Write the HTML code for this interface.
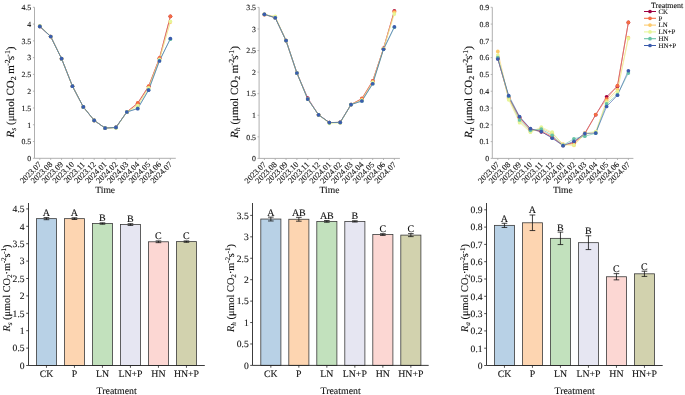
<!DOCTYPE html>
<html><head><meta charset="utf-8"><style>
html,body{margin:0;padding:0;background:#fff;}
svg{display:block;will-change:transform;}
text{font-family:"Liberation Serif", serif;fill:#111;stroke:#111;stroke-width:0.1px;text-rendering:geometricPrecision;}
</style></head><body>
<svg width="685" height="395" viewBox="0 0 685 395">
<rect width="685" height="395" fill="#fff"/>
<line x1="34.5" y1="7.3" x2="34.5" y2="158.3" stroke="#a6a6a6" stroke-width="0.9"/>
<line x1="34.5" y1="158.3" x2="175.8" y2="158.3" stroke="#a6a6a6" stroke-width="0.9"/>
<line x1="32.9" y1="158.3" x2="34.5" y2="158.3" stroke="#a6a6a6" stroke-width="0.8"/>
<text x="31.2" y="161.1" text-anchor="end" font-size="7.8">0</text>
<line x1="32.9" y1="141.52" x2="34.5" y2="141.52" stroke="#a6a6a6" stroke-width="0.8"/>
<text x="31.2" y="144.32" text-anchor="end" font-size="7.8">0.5</text>
<line x1="32.9" y1="124.74" x2="34.5" y2="124.74" stroke="#a6a6a6" stroke-width="0.8"/>
<text x="31.2" y="127.54" text-anchor="end" font-size="7.8">1</text>
<line x1="32.9" y1="107.97" x2="34.5" y2="107.97" stroke="#a6a6a6" stroke-width="0.8"/>
<text x="31.2" y="110.77" text-anchor="end" font-size="7.8">1.5</text>
<line x1="32.9" y1="91.19" x2="34.5" y2="91.19" stroke="#a6a6a6" stroke-width="0.8"/>
<text x="31.2" y="93.99" text-anchor="end" font-size="7.8">2</text>
<line x1="32.9" y1="74.41" x2="34.5" y2="74.41" stroke="#a6a6a6" stroke-width="0.8"/>
<text x="31.2" y="77.21" text-anchor="end" font-size="7.8">2.5</text>
<line x1="32.9" y1="57.63" x2="34.5" y2="57.63" stroke="#a6a6a6" stroke-width="0.8"/>
<text x="31.2" y="60.43" text-anchor="end" font-size="7.8">3</text>
<line x1="32.9" y1="40.86" x2="34.5" y2="40.86" stroke="#a6a6a6" stroke-width="0.8"/>
<text x="31.2" y="43.66" text-anchor="end" font-size="7.8">3.5</text>
<line x1="32.9" y1="24.08" x2="34.5" y2="24.08" stroke="#a6a6a6" stroke-width="0.8"/>
<text x="31.2" y="26.88" text-anchor="end" font-size="7.8">4</text>
<line x1="32.9" y1="7.3" x2="34.5" y2="7.3" stroke="#a6a6a6" stroke-width="0.8"/>
<text x="31.2" y="10.1" text-anchor="end" font-size="7.8">4.5</text>
<line x1="39.8" y1="158.3" x2="39.8" y2="159.9" stroke="#a6a6a6" stroke-width="0.8"/>
<text transform="translate(37.8,160.8) rotate(-45)" text-anchor="end" dy="5.9" font-size="8.2">2023.07</text>
<line x1="50.68" y1="158.3" x2="50.68" y2="159.9" stroke="#a6a6a6" stroke-width="0.8"/>
<text transform="translate(48.68,160.8) rotate(-45)" text-anchor="end" dy="5.9" font-size="8.2">2023.08</text>
<line x1="61.56" y1="158.3" x2="61.56" y2="159.9" stroke="#a6a6a6" stroke-width="0.8"/>
<text transform="translate(59.56,160.8) rotate(-45)" text-anchor="end" dy="5.9" font-size="8.2">2023.09</text>
<line x1="72.44" y1="158.3" x2="72.44" y2="159.9" stroke="#a6a6a6" stroke-width="0.8"/>
<text transform="translate(70.44,160.8) rotate(-45)" text-anchor="end" dy="5.9" font-size="8.2">2023.10</text>
<line x1="83.32" y1="158.3" x2="83.32" y2="159.9" stroke="#a6a6a6" stroke-width="0.8"/>
<text transform="translate(81.32,160.8) rotate(-45)" text-anchor="end" dy="5.9" font-size="8.2">2023.11</text>
<line x1="94.2" y1="158.3" x2="94.2" y2="159.9" stroke="#a6a6a6" stroke-width="0.8"/>
<text transform="translate(92.2,160.8) rotate(-45)" text-anchor="end" dy="5.9" font-size="8.2">2023.12</text>
<line x1="105.08" y1="158.3" x2="105.08" y2="159.9" stroke="#a6a6a6" stroke-width="0.8"/>
<text transform="translate(103.08,160.8) rotate(-45)" text-anchor="end" dy="5.9" font-size="8.2">2024.01</text>
<line x1="115.96" y1="158.3" x2="115.96" y2="159.9" stroke="#a6a6a6" stroke-width="0.8"/>
<text transform="translate(113.96,160.8) rotate(-45)" text-anchor="end" dy="5.9" font-size="8.2">2024.02</text>
<line x1="126.84" y1="158.3" x2="126.84" y2="159.9" stroke="#a6a6a6" stroke-width="0.8"/>
<text transform="translate(124.84,160.8) rotate(-45)" text-anchor="end" dy="5.9" font-size="8.2">2024.03</text>
<line x1="137.72" y1="158.3" x2="137.72" y2="159.9" stroke="#a6a6a6" stroke-width="0.8"/>
<text transform="translate(135.72,160.8) rotate(-45)" text-anchor="end" dy="5.9" font-size="8.2">2024.04</text>
<line x1="148.6" y1="158.3" x2="148.6" y2="159.9" stroke="#a6a6a6" stroke-width="0.8"/>
<text transform="translate(146.6,160.8) rotate(-45)" text-anchor="end" dy="5.9" font-size="8.2">2024.05</text>
<line x1="159.48" y1="158.3" x2="159.48" y2="159.9" stroke="#a6a6a6" stroke-width="0.8"/>
<text transform="translate(157.48,160.8) rotate(-45)" text-anchor="end" dy="5.9" font-size="8.2">2024.06</text>
<line x1="170.36" y1="158.3" x2="170.36" y2="159.9" stroke="#a6a6a6" stroke-width="0.8"/>
<text transform="translate(168.36,160.8) rotate(-45)" text-anchor="end" dy="5.9" font-size="8.2">2024.07</text>
<text x="105.15" y="193.2" text-anchor="middle" font-size="9.6">Time</text>
<text transform="translate(13.8,92.0) rotate(-90)" text-anchor="middle" font-size="11.0"><tspan font-style="italic">R</tspan><tspan font-style="italic" font-size="7.7" dy="2.4">s</tspan><tspan dy="-2.4"> (μmol CO</tspan><tspan font-size="7.7" dy="2.4">2</tspan><tspan dy="-2.4"> m</tspan><tspan font-size="7.7" dy="-3.9" dx="-0.7">-2</tspan><tspan dy="3.9" dx="-0.8">s</tspan><tspan font-size="7.7" dy="-3.9" dx="-0.7">-1</tspan><tspan dy="3.9">)</tspan></text>
<polyline points="39.8,26.43 50.68,36.49 61.56,58.64 72.44,86.16 83.32,106.96 94.2,120.38 105.08,128.1 115.96,127.43 126.84,111.99 137.72,103.27 148.6,86.49 159.48,58.3 170.36,16.36" fill="none" stroke="#9e0142" stroke-width="0.6"/>
<polyline points="39.8,26.43 50.68,36.49 61.56,58.64 72.44,86.16 83.32,106.96 94.2,120.38 105.08,128.1 115.96,127.43 126.84,111.99 137.72,102.93 148.6,86.16 159.48,57.97 170.36,16.36" fill="none" stroke="#f46d43" stroke-width="0.6"/>
<polyline points="39.8,25.76 50.68,36.49 61.56,58.64 72.44,86.16 83.32,106.96 94.2,120.38 105.08,128.1 115.96,127.43 126.84,111.99 137.72,105.28 148.6,87.83 159.48,59.31 170.36,22.06" fill="none" stroke="#fdc96a" stroke-width="0.6"/>
<polyline points="39.8,25.76 50.68,36.49 61.56,58.64 72.44,86.16 83.32,106.96 94.2,120.38 105.08,128.1 115.96,128.1 126.84,111.99 137.72,105.95 148.6,88.17 159.48,59.65 170.36,21.39" fill="none" stroke="#e6f598" stroke-width="0.6"/>
<polyline points="39.8,26.43 50.68,36.49 61.56,58.64 72.44,86.16 83.32,106.96 94.2,120.38 105.08,128.1 115.96,127.43 126.84,111.99 137.72,108.3 148.6,89.85 159.48,60.65 170.36,39.18" fill="none" stroke="#66c2a5" stroke-width="0.6"/>
<polyline points="39.8,26.43 50.68,36.49 61.56,58.64 72.44,86.16 83.32,106.96 94.2,120.38 105.08,128.1 115.96,127.43 126.84,111.99 137.72,108.64 148.6,90.18 159.48,60.99 170.36,38.51" fill="none" stroke="#3b5cad" stroke-width="0.6"/>
<circle cx="39.8" cy="26.43" r="1.85" fill="#9e0142"/>
<circle cx="50.68" cy="36.49" r="1.85" fill="#9e0142"/>
<circle cx="61.56" cy="58.64" r="1.85" fill="#9e0142"/>
<circle cx="72.44" cy="86.16" r="1.85" fill="#9e0142"/>
<circle cx="83.32" cy="106.96" r="1.85" fill="#9e0142"/>
<circle cx="94.2" cy="120.38" r="1.85" fill="#9e0142"/>
<circle cx="105.08" cy="128.1" r="1.85" fill="#9e0142"/>
<circle cx="115.96" cy="127.43" r="1.85" fill="#9e0142"/>
<circle cx="126.84" cy="111.99" r="1.85" fill="#9e0142"/>
<circle cx="137.72" cy="103.27" r="1.85" fill="#9e0142"/>
<circle cx="148.6" cy="86.49" r="1.85" fill="#9e0142"/>
<circle cx="159.48" cy="58.3" r="1.85" fill="#9e0142"/>
<circle cx="170.36" cy="16.36" r="1.85" fill="#9e0142"/>
<circle cx="39.8" cy="26.43" r="1.85" fill="#f46d43"/>
<circle cx="50.68" cy="36.49" r="1.85" fill="#f46d43"/>
<circle cx="61.56" cy="58.64" r="1.85" fill="#f46d43"/>
<circle cx="72.44" cy="86.16" r="1.85" fill="#f46d43"/>
<circle cx="83.32" cy="106.96" r="1.85" fill="#f46d43"/>
<circle cx="94.2" cy="120.38" r="1.85" fill="#f46d43"/>
<circle cx="105.08" cy="128.1" r="1.85" fill="#f46d43"/>
<circle cx="115.96" cy="127.43" r="1.85" fill="#f46d43"/>
<circle cx="126.84" cy="111.99" r="1.85" fill="#f46d43"/>
<circle cx="137.72" cy="102.93" r="1.85" fill="#f46d43"/>
<circle cx="148.6" cy="86.16" r="1.85" fill="#f46d43"/>
<circle cx="159.48" cy="57.97" r="1.85" fill="#f46d43"/>
<circle cx="170.36" cy="16.36" r="1.85" fill="#f46d43"/>
<circle cx="39.8" cy="25.76" r="1.85" fill="#fdc96a"/>
<circle cx="50.68" cy="36.49" r="1.85" fill="#fdc96a"/>
<circle cx="61.56" cy="58.64" r="1.85" fill="#fdc96a"/>
<circle cx="72.44" cy="86.16" r="1.85" fill="#fdc96a"/>
<circle cx="83.32" cy="106.96" r="1.85" fill="#fdc96a"/>
<circle cx="94.2" cy="120.38" r="1.85" fill="#fdc96a"/>
<circle cx="105.08" cy="128.1" r="1.85" fill="#fdc96a"/>
<circle cx="115.96" cy="127.43" r="1.85" fill="#fdc96a"/>
<circle cx="126.84" cy="111.99" r="1.85" fill="#fdc96a"/>
<circle cx="137.72" cy="105.28" r="1.85" fill="#fdc96a"/>
<circle cx="148.6" cy="87.83" r="1.85" fill="#fdc96a"/>
<circle cx="159.48" cy="59.31" r="1.85" fill="#fdc96a"/>
<circle cx="170.36" cy="22.06" r="1.85" fill="#fdc96a"/>
<circle cx="39.8" cy="25.76" r="1.85" fill="#e6f598"/>
<circle cx="50.68" cy="36.49" r="1.85" fill="#e6f598"/>
<circle cx="61.56" cy="58.64" r="1.85" fill="#e6f598"/>
<circle cx="72.44" cy="86.16" r="1.85" fill="#e6f598"/>
<circle cx="83.32" cy="106.96" r="1.85" fill="#e6f598"/>
<circle cx="94.2" cy="120.38" r="1.85" fill="#e6f598"/>
<circle cx="105.08" cy="128.1" r="1.85" fill="#e6f598"/>
<circle cx="115.96" cy="128.1" r="1.85" fill="#e6f598"/>
<circle cx="126.84" cy="111.99" r="1.85" fill="#e6f598"/>
<circle cx="137.72" cy="105.95" r="1.85" fill="#e6f598"/>
<circle cx="148.6" cy="88.17" r="1.85" fill="#e6f598"/>
<circle cx="159.48" cy="59.65" r="1.85" fill="#e6f598"/>
<circle cx="170.36" cy="21.39" r="1.85" fill="#e6f598"/>
<circle cx="39.8" cy="26.43" r="1.85" fill="#66c2a5"/>
<circle cx="50.68" cy="36.49" r="1.85" fill="#66c2a5"/>
<circle cx="61.56" cy="58.64" r="1.85" fill="#66c2a5"/>
<circle cx="72.44" cy="86.16" r="1.85" fill="#66c2a5"/>
<circle cx="83.32" cy="106.96" r="1.85" fill="#66c2a5"/>
<circle cx="94.2" cy="120.38" r="1.85" fill="#66c2a5"/>
<circle cx="105.08" cy="128.1" r="1.85" fill="#66c2a5"/>
<circle cx="115.96" cy="127.43" r="1.85" fill="#66c2a5"/>
<circle cx="126.84" cy="111.99" r="1.85" fill="#66c2a5"/>
<circle cx="137.72" cy="108.3" r="1.85" fill="#66c2a5"/>
<circle cx="148.6" cy="89.85" r="1.85" fill="#66c2a5"/>
<circle cx="159.48" cy="60.65" r="1.85" fill="#66c2a5"/>
<circle cx="170.36" cy="39.18" r="1.85" fill="#66c2a5"/>
<circle cx="39.8" cy="26.43" r="1.85" fill="#3b5cad"/>
<circle cx="50.68" cy="36.49" r="1.85" fill="#3b5cad"/>
<circle cx="61.56" cy="58.64" r="1.85" fill="#3b5cad"/>
<circle cx="72.44" cy="86.16" r="1.85" fill="#3b5cad"/>
<circle cx="83.32" cy="106.96" r="1.85" fill="#3b5cad"/>
<circle cx="94.2" cy="120.38" r="1.85" fill="#3b5cad"/>
<circle cx="105.08" cy="128.1" r="1.85" fill="#3b5cad"/>
<circle cx="115.96" cy="127.43" r="1.85" fill="#3b5cad"/>
<circle cx="126.84" cy="111.99" r="1.85" fill="#3b5cad"/>
<circle cx="137.72" cy="108.64" r="1.85" fill="#3b5cad"/>
<circle cx="148.6" cy="90.18" r="1.85" fill="#3b5cad"/>
<circle cx="159.48" cy="60.99" r="1.85" fill="#3b5cad"/>
<circle cx="170.36" cy="38.51" r="1.85" fill="#3b5cad"/>
<line x1="259.1" y1="7.4" x2="259.1" y2="158.4" stroke="#a6a6a6" stroke-width="0.9"/>
<line x1="259.1" y1="158.4" x2="399.9" y2="158.4" stroke="#a6a6a6" stroke-width="0.9"/>
<line x1="257.5" y1="158.4" x2="259.1" y2="158.4" stroke="#a6a6a6" stroke-width="0.8"/>
<text x="256" y="161.2" text-anchor="end" font-size="7.8">0</text>
<line x1="257.5" y1="136.83" x2="259.1" y2="136.83" stroke="#a6a6a6" stroke-width="0.8"/>
<text x="256" y="139.63" text-anchor="end" font-size="7.8">0.5</text>
<line x1="257.5" y1="115.26" x2="259.1" y2="115.26" stroke="#a6a6a6" stroke-width="0.8"/>
<text x="256" y="118.06" text-anchor="end" font-size="7.8">1</text>
<line x1="257.5" y1="93.69" x2="259.1" y2="93.69" stroke="#a6a6a6" stroke-width="0.8"/>
<text x="256" y="96.49" text-anchor="end" font-size="7.8">1.5</text>
<line x1="257.5" y1="72.11" x2="259.1" y2="72.11" stroke="#a6a6a6" stroke-width="0.8"/>
<text x="256" y="74.91" text-anchor="end" font-size="7.8">2</text>
<line x1="257.5" y1="50.54" x2="259.1" y2="50.54" stroke="#a6a6a6" stroke-width="0.8"/>
<text x="256" y="53.34" text-anchor="end" font-size="7.8">2.5</text>
<line x1="257.5" y1="28.97" x2="259.1" y2="28.97" stroke="#a6a6a6" stroke-width="0.8"/>
<text x="256" y="31.77" text-anchor="end" font-size="7.8">3</text>
<line x1="257.5" y1="7.4" x2="259.1" y2="7.4" stroke="#a6a6a6" stroke-width="0.8"/>
<text x="256" y="10.2" text-anchor="end" font-size="7.8">3.5</text>
<line x1="264.4" y1="158.4" x2="264.4" y2="160" stroke="#a6a6a6" stroke-width="0.8"/>
<text transform="translate(262.4,160.9) rotate(-45)" text-anchor="end" dy="5.9" font-size="8.2">2023.07</text>
<line x1="275.23" y1="158.4" x2="275.23" y2="160" stroke="#a6a6a6" stroke-width="0.8"/>
<text transform="translate(273.23,160.9) rotate(-45)" text-anchor="end" dy="5.9" font-size="8.2">2023.08</text>
<line x1="286.06" y1="158.4" x2="286.06" y2="160" stroke="#a6a6a6" stroke-width="0.8"/>
<text transform="translate(284.06,160.9) rotate(-45)" text-anchor="end" dy="5.9" font-size="8.2">2023.09</text>
<line x1="296.89" y1="158.4" x2="296.89" y2="160" stroke="#a6a6a6" stroke-width="0.8"/>
<text transform="translate(294.89,160.9) rotate(-45)" text-anchor="end" dy="5.9" font-size="8.2">2023.10</text>
<line x1="307.72" y1="158.4" x2="307.72" y2="160" stroke="#a6a6a6" stroke-width="0.8"/>
<text transform="translate(305.72,160.9) rotate(-45)" text-anchor="end" dy="5.9" font-size="8.2">2023.11</text>
<line x1="318.55" y1="158.4" x2="318.55" y2="160" stroke="#a6a6a6" stroke-width="0.8"/>
<text transform="translate(316.55,160.9) rotate(-45)" text-anchor="end" dy="5.9" font-size="8.2">2023.12</text>
<line x1="329.38" y1="158.4" x2="329.38" y2="160" stroke="#a6a6a6" stroke-width="0.8"/>
<text transform="translate(327.38,160.9) rotate(-45)" text-anchor="end" dy="5.9" font-size="8.2">2024.01</text>
<line x1="340.21" y1="158.4" x2="340.21" y2="160" stroke="#a6a6a6" stroke-width="0.8"/>
<text transform="translate(338.21,160.9) rotate(-45)" text-anchor="end" dy="5.9" font-size="8.2">2024.02</text>
<line x1="351.04" y1="158.4" x2="351.04" y2="160" stroke="#a6a6a6" stroke-width="0.8"/>
<text transform="translate(349.04,160.9) rotate(-45)" text-anchor="end" dy="5.9" font-size="8.2">2024.03</text>
<line x1="361.87" y1="158.4" x2="361.87" y2="160" stroke="#a6a6a6" stroke-width="0.8"/>
<text transform="translate(359.87,160.9) rotate(-45)" text-anchor="end" dy="5.9" font-size="8.2">2024.04</text>
<line x1="372.7" y1="158.4" x2="372.7" y2="160" stroke="#a6a6a6" stroke-width="0.8"/>
<text transform="translate(370.7,160.9) rotate(-45)" text-anchor="end" dy="5.9" font-size="8.2">2024.05</text>
<line x1="383.53" y1="158.4" x2="383.53" y2="160" stroke="#a6a6a6" stroke-width="0.8"/>
<text transform="translate(381.53,160.9) rotate(-45)" text-anchor="end" dy="5.9" font-size="8.2">2024.06</text>
<line x1="394.36" y1="158.4" x2="394.36" y2="160" stroke="#a6a6a6" stroke-width="0.8"/>
<text transform="translate(392.36,160.9) rotate(-45)" text-anchor="end" dy="5.9" font-size="8.2">2024.07</text>
<text x="329.5" y="193.2" text-anchor="middle" font-size="9.6">Time</text>
<text transform="translate(238,92.0) rotate(-90)" text-anchor="middle" font-size="11.0"><tspan font-style="italic">R</tspan><tspan font-style="italic" font-size="7.7" dy="2.4">h</tspan><tspan dy="-2.4"> (μmol CO</tspan><tspan font-size="7.7" dy="2.4">2</tspan><tspan dy="-2.4"> m</tspan><tspan font-size="7.7" dy="-3.9" dx="-0.7">-2</tspan><tspan dy="3.9" dx="-0.8">s</tspan><tspan font-size="7.7" dy="-3.9" dx="-0.7">-1</tspan><tspan dy="3.9">)</tspan></text>
<polyline points="264.4,14.3 275.23,17.75 286.06,40.62 296.89,72.98 307.72,98 318.55,114.83 329.38,122.59 340.21,122.38 351.04,104.56 361.87,98.86 372.7,81.17 383.53,48.39 394.36,10.85" fill="none" stroke="#9e0142" stroke-width="0.6"/>
<polyline points="264.4,14.73 275.23,16.89 286.06,40.62 296.89,72.98 307.72,99.04 318.55,114.83 329.38,122.59 340.21,122.38 351.04,104.56 361.87,98.43 372.7,80.74 383.53,48.39 394.36,11.28" fill="none" stroke="#f46d43" stroke-width="0.6"/>
<polyline points="264.4,14.3 275.23,17.75 286.06,40.62 296.89,72.98 307.72,99.04 318.55,114.83 329.38,122.59 340.21,122.38 351.04,104.56 361.87,99.73 372.7,82.04 383.53,48.82 394.36,12.58" fill="none" stroke="#fdc96a" stroke-width="0.6"/>
<polyline points="264.4,14.3 275.23,16.46 286.06,40.62 296.89,72.98 307.72,99.04 318.55,114.83 329.38,123.45 340.21,123.02 351.04,104.56 361.87,100.16 372.7,82.47 383.53,48.82 394.36,14.09" fill="none" stroke="#e6f598" stroke-width="0.6"/>
<polyline points="264.4,14.3 275.23,17.75 286.06,40.62 296.89,72.98 307.72,99.04 318.55,114.83 329.38,122.59 340.21,122.38 351.04,104.56 361.87,101.02 372.7,83.76 383.53,49.25 394.36,27.25" fill="none" stroke="#66c2a5" stroke-width="0.6"/>
<polyline points="264.4,14.3 275.23,17.75 286.06,40.62 296.89,72.98 307.72,99.04 318.55,114.83 329.38,122.59 340.21,122.38 351.04,104.56 361.87,101.02 372.7,83.76 383.53,49.25 394.36,26.81" fill="none" stroke="#3b5cad" stroke-width="0.6"/>
<circle cx="264.4" cy="14.3" r="1.85" fill="#9e0142"/>
<circle cx="275.23" cy="17.75" r="1.85" fill="#9e0142"/>
<circle cx="286.06" cy="40.62" r="1.85" fill="#9e0142"/>
<circle cx="296.89" cy="72.98" r="1.85" fill="#9e0142"/>
<circle cx="307.72" cy="98" r="1.85" fill="#9e0142"/>
<circle cx="318.55" cy="114.83" r="1.85" fill="#9e0142"/>
<circle cx="329.38" cy="122.59" r="1.85" fill="#9e0142"/>
<circle cx="340.21" cy="122.38" r="1.85" fill="#9e0142"/>
<circle cx="351.04" cy="104.56" r="1.85" fill="#9e0142"/>
<circle cx="361.87" cy="98.86" r="1.85" fill="#9e0142"/>
<circle cx="372.7" cy="81.17" r="1.85" fill="#9e0142"/>
<circle cx="383.53" cy="48.39" r="1.85" fill="#9e0142"/>
<circle cx="394.36" cy="10.85" r="1.85" fill="#9e0142"/>
<circle cx="264.4" cy="14.73" r="1.85" fill="#f46d43"/>
<circle cx="275.23" cy="16.89" r="1.85" fill="#f46d43"/>
<circle cx="286.06" cy="40.62" r="1.85" fill="#f46d43"/>
<circle cx="296.89" cy="72.98" r="1.85" fill="#f46d43"/>
<circle cx="307.72" cy="99.04" r="1.85" fill="#f46d43"/>
<circle cx="318.55" cy="114.83" r="1.85" fill="#f46d43"/>
<circle cx="329.38" cy="122.59" r="1.85" fill="#f46d43"/>
<circle cx="340.21" cy="122.38" r="1.85" fill="#f46d43"/>
<circle cx="351.04" cy="104.56" r="1.85" fill="#f46d43"/>
<circle cx="361.87" cy="98.43" r="1.85" fill="#f46d43"/>
<circle cx="372.7" cy="80.74" r="1.85" fill="#f46d43"/>
<circle cx="383.53" cy="48.39" r="1.85" fill="#f46d43"/>
<circle cx="394.36" cy="11.28" r="1.85" fill="#f46d43"/>
<circle cx="264.4" cy="14.3" r="1.85" fill="#fdc96a"/>
<circle cx="275.23" cy="17.75" r="1.85" fill="#fdc96a"/>
<circle cx="286.06" cy="40.62" r="1.85" fill="#fdc96a"/>
<circle cx="296.89" cy="72.98" r="1.85" fill="#fdc96a"/>
<circle cx="307.72" cy="99.04" r="1.85" fill="#fdc96a"/>
<circle cx="318.55" cy="114.83" r="1.85" fill="#fdc96a"/>
<circle cx="329.38" cy="122.59" r="1.85" fill="#fdc96a"/>
<circle cx="340.21" cy="122.38" r="1.85" fill="#fdc96a"/>
<circle cx="351.04" cy="104.56" r="1.85" fill="#fdc96a"/>
<circle cx="361.87" cy="99.73" r="1.85" fill="#fdc96a"/>
<circle cx="372.7" cy="82.04" r="1.85" fill="#fdc96a"/>
<circle cx="383.53" cy="48.82" r="1.85" fill="#fdc96a"/>
<circle cx="394.36" cy="12.58" r="1.85" fill="#fdc96a"/>
<circle cx="264.4" cy="14.3" r="1.85" fill="#e6f598"/>
<circle cx="275.23" cy="16.46" r="1.85" fill="#e6f598"/>
<circle cx="286.06" cy="40.62" r="1.85" fill="#e6f598"/>
<circle cx="296.89" cy="72.98" r="1.85" fill="#e6f598"/>
<circle cx="307.72" cy="99.04" r="1.85" fill="#e6f598"/>
<circle cx="318.55" cy="114.83" r="1.85" fill="#e6f598"/>
<circle cx="329.38" cy="123.45" r="1.85" fill="#e6f598"/>
<circle cx="340.21" cy="123.02" r="1.85" fill="#e6f598"/>
<circle cx="351.04" cy="104.56" r="1.85" fill="#e6f598"/>
<circle cx="361.87" cy="100.16" r="1.85" fill="#e6f598"/>
<circle cx="372.7" cy="82.47" r="1.85" fill="#e6f598"/>
<circle cx="383.53" cy="48.82" r="1.85" fill="#e6f598"/>
<circle cx="394.36" cy="14.09" r="1.85" fill="#e6f598"/>
<circle cx="264.4" cy="14.3" r="1.85" fill="#66c2a5"/>
<circle cx="275.23" cy="17.75" r="1.85" fill="#66c2a5"/>
<circle cx="286.06" cy="40.62" r="1.85" fill="#66c2a5"/>
<circle cx="296.89" cy="72.98" r="1.85" fill="#66c2a5"/>
<circle cx="307.72" cy="99.04" r="1.85" fill="#66c2a5"/>
<circle cx="318.55" cy="114.83" r="1.85" fill="#66c2a5"/>
<circle cx="329.38" cy="122.59" r="1.85" fill="#66c2a5"/>
<circle cx="340.21" cy="122.38" r="1.85" fill="#66c2a5"/>
<circle cx="351.04" cy="104.56" r="1.85" fill="#66c2a5"/>
<circle cx="361.87" cy="101.02" r="1.85" fill="#66c2a5"/>
<circle cx="372.7" cy="83.76" r="1.85" fill="#66c2a5"/>
<circle cx="383.53" cy="49.25" r="1.85" fill="#66c2a5"/>
<circle cx="394.36" cy="27.25" r="1.85" fill="#66c2a5"/>
<circle cx="264.4" cy="14.3" r="1.85" fill="#3b5cad"/>
<circle cx="275.23" cy="17.75" r="1.85" fill="#3b5cad"/>
<circle cx="286.06" cy="40.62" r="1.85" fill="#3b5cad"/>
<circle cx="296.89" cy="72.98" r="1.85" fill="#3b5cad"/>
<circle cx="307.72" cy="99.04" r="1.85" fill="#3b5cad"/>
<circle cx="318.55" cy="114.83" r="1.85" fill="#3b5cad"/>
<circle cx="329.38" cy="122.59" r="1.85" fill="#3b5cad"/>
<circle cx="340.21" cy="122.38" r="1.85" fill="#3b5cad"/>
<circle cx="351.04" cy="104.56" r="1.85" fill="#3b5cad"/>
<circle cx="361.87" cy="101.02" r="1.85" fill="#3b5cad"/>
<circle cx="372.7" cy="83.76" r="1.85" fill="#3b5cad"/>
<circle cx="383.53" cy="49.25" r="1.85" fill="#3b5cad"/>
<circle cx="394.36" cy="26.81" r="1.85" fill="#3b5cad"/>
<line x1="492.3" y1="7.3" x2="492.3" y2="158.4" stroke="#a6a6a6" stroke-width="0.9"/>
<line x1="492.3" y1="158.4" x2="633.4" y2="158.4" stroke="#a6a6a6" stroke-width="0.9"/>
<line x1="490.7" y1="158.4" x2="492.3" y2="158.4" stroke="#a6a6a6" stroke-width="0.8"/>
<text x="489.2" y="161.2" text-anchor="end" font-size="7.8">0</text>
<line x1="490.7" y1="141.61" x2="492.3" y2="141.61" stroke="#a6a6a6" stroke-width="0.8"/>
<text x="489.2" y="144.41" text-anchor="end" font-size="7.8">0.1</text>
<line x1="490.7" y1="124.82" x2="492.3" y2="124.82" stroke="#a6a6a6" stroke-width="0.8"/>
<text x="489.2" y="127.62" text-anchor="end" font-size="7.8">0.2</text>
<line x1="490.7" y1="108.03" x2="492.3" y2="108.03" stroke="#a6a6a6" stroke-width="0.8"/>
<text x="489.2" y="110.83" text-anchor="end" font-size="7.8">0.3</text>
<line x1="490.7" y1="91.24" x2="492.3" y2="91.24" stroke="#a6a6a6" stroke-width="0.8"/>
<text x="489.2" y="94.04" text-anchor="end" font-size="7.8">0.4</text>
<line x1="490.7" y1="74.46" x2="492.3" y2="74.46" stroke="#a6a6a6" stroke-width="0.8"/>
<text x="489.2" y="77.26" text-anchor="end" font-size="7.8">0.5</text>
<line x1="490.7" y1="57.67" x2="492.3" y2="57.67" stroke="#a6a6a6" stroke-width="0.8"/>
<text x="489.2" y="60.47" text-anchor="end" font-size="7.8">0.6</text>
<line x1="490.7" y1="40.88" x2="492.3" y2="40.88" stroke="#a6a6a6" stroke-width="0.8"/>
<text x="489.2" y="43.68" text-anchor="end" font-size="7.8">0.7</text>
<line x1="490.7" y1="24.09" x2="492.3" y2="24.09" stroke="#a6a6a6" stroke-width="0.8"/>
<text x="489.2" y="26.89" text-anchor="end" font-size="7.8">0.8</text>
<line x1="490.7" y1="7.3" x2="492.3" y2="7.3" stroke="#a6a6a6" stroke-width="0.8"/>
<text x="489.2" y="10.1" text-anchor="end" font-size="7.8">0.9</text>
<line x1="497.8" y1="158.4" x2="497.8" y2="160" stroke="#a6a6a6" stroke-width="0.8"/>
<text transform="translate(495.8,160.9) rotate(-45)" text-anchor="end" dy="5.9" font-size="8.2">2023.07</text>
<line x1="508.68" y1="158.4" x2="508.68" y2="160" stroke="#a6a6a6" stroke-width="0.8"/>
<text transform="translate(506.68,160.9) rotate(-45)" text-anchor="end" dy="5.9" font-size="8.2">2023.08</text>
<line x1="519.56" y1="158.4" x2="519.56" y2="160" stroke="#a6a6a6" stroke-width="0.8"/>
<text transform="translate(517.56,160.9) rotate(-45)" text-anchor="end" dy="5.9" font-size="8.2">2023.09</text>
<line x1="530.44" y1="158.4" x2="530.44" y2="160" stroke="#a6a6a6" stroke-width="0.8"/>
<text transform="translate(528.44,160.9) rotate(-45)" text-anchor="end" dy="5.9" font-size="8.2">2023.10</text>
<line x1="541.32" y1="158.4" x2="541.32" y2="160" stroke="#a6a6a6" stroke-width="0.8"/>
<text transform="translate(539.32,160.9) rotate(-45)" text-anchor="end" dy="5.9" font-size="8.2">2023.11</text>
<line x1="552.2" y1="158.4" x2="552.2" y2="160" stroke="#a6a6a6" stroke-width="0.8"/>
<text transform="translate(550.2,160.9) rotate(-45)" text-anchor="end" dy="5.9" font-size="8.2">2023.12</text>
<line x1="563.08" y1="158.4" x2="563.08" y2="160" stroke="#a6a6a6" stroke-width="0.8"/>
<text transform="translate(561.08,160.9) rotate(-45)" text-anchor="end" dy="5.9" font-size="8.2">2024.01</text>
<line x1="573.96" y1="158.4" x2="573.96" y2="160" stroke="#a6a6a6" stroke-width="0.8"/>
<text transform="translate(571.96,160.9) rotate(-45)" text-anchor="end" dy="5.9" font-size="8.2">2024.02</text>
<line x1="584.84" y1="158.4" x2="584.84" y2="160" stroke="#a6a6a6" stroke-width="0.8"/>
<text transform="translate(582.84,160.9) rotate(-45)" text-anchor="end" dy="5.9" font-size="8.2">2024.03</text>
<line x1="595.72" y1="158.4" x2="595.72" y2="160" stroke="#a6a6a6" stroke-width="0.8"/>
<text transform="translate(593.72,160.9) rotate(-45)" text-anchor="end" dy="5.9" font-size="8.2">2024.04</text>
<line x1="606.6" y1="158.4" x2="606.6" y2="160" stroke="#a6a6a6" stroke-width="0.8"/>
<text transform="translate(604.6,160.9) rotate(-45)" text-anchor="end" dy="5.9" font-size="8.2">2024.05</text>
<line x1="617.48" y1="158.4" x2="617.48" y2="160" stroke="#a6a6a6" stroke-width="0.8"/>
<text transform="translate(615.48,160.9) rotate(-45)" text-anchor="end" dy="5.9" font-size="8.2">2024.06</text>
<line x1="628.36" y1="158.4" x2="628.36" y2="160" stroke="#a6a6a6" stroke-width="0.8"/>
<text transform="translate(626.36,160.9) rotate(-45)" text-anchor="end" dy="5.9" font-size="8.2">2024.07</text>
<text x="562.85" y="193.2" text-anchor="middle" font-size="9.6">Time</text>
<text transform="translate(472,92.0) rotate(-90)" text-anchor="middle" font-size="11.0"><tspan font-style="italic">R</tspan><tspan font-style="italic" font-size="7.7" dy="2.4">a</tspan><tspan dy="-2.4"> (μmol CO</tspan><tspan font-size="7.7" dy="2.4">2</tspan><tspan dy="-2.4"> m</tspan><tspan font-size="7.7" dy="-3.9" dx="-0.7">-2</tspan><tspan dy="3.9" dx="-0.8">s</tspan><tspan font-size="7.7" dy="-3.9" dx="-0.7">-1</tspan><tspan dy="3.9">)</tspan></text>
<polyline points="497.8,58.51 508.68,97.12 519.56,117.27 530.44,129.02 541.32,131.87 552.2,137.41 563.08,145.47 573.96,142.45 584.84,133.22 595.72,114.75 606.6,96.78 617.48,86.21 628.36,22.41" fill="none" stroke="#9e0142" stroke-width="0.6"/>
<polyline points="497.8,57.67 508.68,97.96 519.56,118.11 530.44,129.86 541.32,130.7 552.2,136.57 563.08,145.3 573.96,143.29 584.84,134.06 595.72,114.58 606.6,98.8 617.48,85.54 628.36,22.41" fill="none" stroke="#f46d43" stroke-width="0.6"/>
<polyline points="497.8,51.45 508.68,98.8 519.56,121.46 530.44,131.54 541.32,128.18 552.2,133.22 563.08,144.13 573.96,145.3 584.84,134.06 595.72,132.38 606.6,100.48 617.48,89.57 628.36,37.52" fill="none" stroke="#fdc96a" stroke-width="0.6"/>
<polyline points="497.8,54.98 508.68,99.81 519.56,122.64 530.44,132.21 541.32,127 552.2,132.21 563.08,144.97 573.96,144.97 584.84,133.22 595.72,131.54 606.6,102.16 617.48,91.24 628.36,38.53" fill="none" stroke="#e6f598" stroke-width="0.6"/>
<polyline points="497.8,57.67 508.68,96.28 519.56,119.95 530.44,130.36 541.32,129.19 552.2,135.23 563.08,145.3 573.96,138.76 584.84,136.24 595.72,133.22 606.6,103.84 617.48,94.6 628.36,73.11" fill="none" stroke="#66c2a5" stroke-width="0.6"/>
<polyline points="497.8,59.01 508.68,95.61 519.56,116.6 530.44,128.68 541.32,131.54 552.2,138.25 563.08,145.64 573.96,141.28 584.84,133.55 595.72,133.05 606.6,106.52 617.48,95.27 628.36,70.76" fill="none" stroke="#3b5cad" stroke-width="0.6"/>
<circle cx="497.8" cy="58.51" r="1.85" fill="#9e0142"/>
<circle cx="508.68" cy="97.12" r="1.85" fill="#9e0142"/>
<circle cx="519.56" cy="117.27" r="1.85" fill="#9e0142"/>
<circle cx="530.44" cy="129.02" r="1.85" fill="#9e0142"/>
<circle cx="541.32" cy="131.87" r="1.85" fill="#9e0142"/>
<circle cx="552.2" cy="137.41" r="1.85" fill="#9e0142"/>
<circle cx="563.08" cy="145.47" r="1.85" fill="#9e0142"/>
<circle cx="573.96" cy="142.45" r="1.85" fill="#9e0142"/>
<circle cx="584.84" cy="133.22" r="1.85" fill="#9e0142"/>
<circle cx="595.72" cy="114.75" r="1.85" fill="#9e0142"/>
<circle cx="606.6" cy="96.78" r="1.85" fill="#9e0142"/>
<circle cx="617.48" cy="86.21" r="1.85" fill="#9e0142"/>
<circle cx="628.36" cy="22.41" r="1.85" fill="#9e0142"/>
<circle cx="497.8" cy="57.67" r="1.85" fill="#f46d43"/>
<circle cx="508.68" cy="97.96" r="1.85" fill="#f46d43"/>
<circle cx="519.56" cy="118.11" r="1.85" fill="#f46d43"/>
<circle cx="530.44" cy="129.86" r="1.85" fill="#f46d43"/>
<circle cx="541.32" cy="130.7" r="1.85" fill="#f46d43"/>
<circle cx="552.2" cy="136.57" r="1.85" fill="#f46d43"/>
<circle cx="563.08" cy="145.3" r="1.85" fill="#f46d43"/>
<circle cx="573.96" cy="143.29" r="1.85" fill="#f46d43"/>
<circle cx="584.84" cy="134.06" r="1.85" fill="#f46d43"/>
<circle cx="595.72" cy="114.58" r="1.85" fill="#f46d43"/>
<circle cx="606.6" cy="98.8" r="1.85" fill="#f46d43"/>
<circle cx="617.48" cy="85.54" r="1.85" fill="#f46d43"/>
<circle cx="628.36" cy="22.41" r="1.85" fill="#f46d43"/>
<circle cx="497.8" cy="51.45" r="1.85" fill="#fdc96a"/>
<circle cx="508.68" cy="98.8" r="1.85" fill="#fdc96a"/>
<circle cx="519.56" cy="121.46" r="1.85" fill="#fdc96a"/>
<circle cx="530.44" cy="131.54" r="1.85" fill="#fdc96a"/>
<circle cx="541.32" cy="128.18" r="1.85" fill="#fdc96a"/>
<circle cx="552.2" cy="133.22" r="1.85" fill="#fdc96a"/>
<circle cx="563.08" cy="144.13" r="1.85" fill="#fdc96a"/>
<circle cx="573.96" cy="145.3" r="1.85" fill="#fdc96a"/>
<circle cx="584.84" cy="134.06" r="1.85" fill="#fdc96a"/>
<circle cx="595.72" cy="132.38" r="1.85" fill="#fdc96a"/>
<circle cx="606.6" cy="100.48" r="1.85" fill="#fdc96a"/>
<circle cx="617.48" cy="89.57" r="1.85" fill="#fdc96a"/>
<circle cx="628.36" cy="37.52" r="1.85" fill="#fdc96a"/>
<circle cx="497.8" cy="54.98" r="1.85" fill="#e6f598"/>
<circle cx="508.68" cy="99.81" r="1.85" fill="#e6f598"/>
<circle cx="519.56" cy="122.64" r="1.85" fill="#e6f598"/>
<circle cx="530.44" cy="132.21" r="1.85" fill="#e6f598"/>
<circle cx="541.32" cy="127" r="1.85" fill="#e6f598"/>
<circle cx="552.2" cy="132.21" r="1.85" fill="#e6f598"/>
<circle cx="563.08" cy="144.97" r="1.85" fill="#e6f598"/>
<circle cx="573.96" cy="144.97" r="1.85" fill="#e6f598"/>
<circle cx="584.84" cy="133.22" r="1.85" fill="#e6f598"/>
<circle cx="595.72" cy="131.54" r="1.85" fill="#e6f598"/>
<circle cx="606.6" cy="102.16" r="1.85" fill="#e6f598"/>
<circle cx="617.48" cy="91.24" r="1.85" fill="#e6f598"/>
<circle cx="628.36" cy="38.53" r="1.85" fill="#e6f598"/>
<circle cx="497.8" cy="57.67" r="1.85" fill="#66c2a5"/>
<circle cx="508.68" cy="96.28" r="1.85" fill="#66c2a5"/>
<circle cx="519.56" cy="119.95" r="1.85" fill="#66c2a5"/>
<circle cx="530.44" cy="130.36" r="1.85" fill="#66c2a5"/>
<circle cx="541.32" cy="129.19" r="1.85" fill="#66c2a5"/>
<circle cx="552.2" cy="135.23" r="1.85" fill="#66c2a5"/>
<circle cx="563.08" cy="145.3" r="1.85" fill="#66c2a5"/>
<circle cx="573.96" cy="138.76" r="1.85" fill="#66c2a5"/>
<circle cx="584.84" cy="136.24" r="1.85" fill="#66c2a5"/>
<circle cx="595.72" cy="133.22" r="1.85" fill="#66c2a5"/>
<circle cx="606.6" cy="103.84" r="1.85" fill="#66c2a5"/>
<circle cx="617.48" cy="94.6" r="1.85" fill="#66c2a5"/>
<circle cx="628.36" cy="73.11" r="1.85" fill="#66c2a5"/>
<circle cx="497.8" cy="59.01" r="1.85" fill="#3b5cad"/>
<circle cx="508.68" cy="95.61" r="1.85" fill="#3b5cad"/>
<circle cx="519.56" cy="116.6" r="1.85" fill="#3b5cad"/>
<circle cx="530.44" cy="128.68" r="1.85" fill="#3b5cad"/>
<circle cx="541.32" cy="131.54" r="1.85" fill="#3b5cad"/>
<circle cx="552.2" cy="138.25" r="1.85" fill="#3b5cad"/>
<circle cx="563.08" cy="145.64" r="1.85" fill="#3b5cad"/>
<circle cx="573.96" cy="141.28" r="1.85" fill="#3b5cad"/>
<circle cx="584.84" cy="133.55" r="1.85" fill="#3b5cad"/>
<circle cx="595.72" cy="133.05" r="1.85" fill="#3b5cad"/>
<circle cx="606.6" cy="106.52" r="1.85" fill="#3b5cad"/>
<circle cx="617.48" cy="95.27" r="1.85" fill="#3b5cad"/>
<circle cx="628.36" cy="70.76" r="1.85" fill="#3b5cad"/>
<text x="651" y="7.7" font-size="7.9">Treatment</text>
<line x1="644" y1="11.5" x2="656" y2="11.5" stroke="#9e0142" stroke-width="1.05"/>
<circle cx="650" cy="11.5" r="1.85" fill="#9e0142"/>
<text x="658.5" y="13.8" font-size="6.9">CK</text>
<line x1="644" y1="18.3" x2="656" y2="18.3" stroke="#f46d43" stroke-width="1.05"/>
<circle cx="650" cy="18.3" r="1.85" fill="#f46d43"/>
<text x="658.5" y="20.6" font-size="6.9">P</text>
<line x1="644" y1="25.1" x2="656" y2="25.1" stroke="#fdc96a" stroke-width="1.05"/>
<circle cx="650" cy="25.1" r="1.85" fill="#fdc96a"/>
<text x="658.5" y="27.4" font-size="6.9">LN</text>
<line x1="644" y1="31.9" x2="656" y2="31.9" stroke="#e6f598" stroke-width="1.05"/>
<circle cx="650" cy="31.9" r="1.85" fill="#e6f598"/>
<text x="658.5" y="34.2" font-size="6.9">LN+P</text>
<line x1="644" y1="38.7" x2="656" y2="38.7" stroke="#66c2a5" stroke-width="1.05"/>
<circle cx="650" cy="38.7" r="1.85" fill="#66c2a5"/>
<text x="658.5" y="41" font-size="6.9">HN</text>
<line x1="644" y1="45.5" x2="656" y2="45.5" stroke="#3b5cad" stroke-width="1.05"/>
<circle cx="650" cy="45.5" r="1.85" fill="#3b5cad"/>
<text x="658.5" y="47.8" font-size="6.9">HN+P</text>
<rect x="36.4" y="218.64" width="20.1" height="146.86" fill="#b8d1e6" stroke="#3a3a3a" stroke-width="0.8"/>
<rect x="64.4" y="218.64" width="20.1" height="146.86" fill="#fdd5b1" stroke="#3a3a3a" stroke-width="0.8"/>
<rect x="92.4" y="223.52" width="20.1" height="141.98" fill="#c2e1bd" stroke="#3a3a3a" stroke-width="0.8"/>
<rect x="120.4" y="224.56" width="20.1" height="140.94" fill="#e6e6f2" stroke="#3a3a3a" stroke-width="0.8"/>
<rect x="148.4" y="241.79" width="20.1" height="123.71" fill="#fcd7d3" stroke="#3a3a3a" stroke-width="0.8"/>
<rect x="176.4" y="241.61" width="20.1" height="123.89" fill="#d2d2ae" stroke="#3a3a3a" stroke-width="0.8"/>
<line x1="46.45" y1="217.6" x2="46.45" y2="219.69" stroke="#111" stroke-width="0.8"/>
<line x1="43.65" y1="217.6" x2="49.25" y2="217.6" stroke="#111" stroke-width="0.8"/>
<line x1="43.65" y1="219.69" x2="49.25" y2="219.69" stroke="#111" stroke-width="0.8"/>
<text x="46.45" y="216.1" text-anchor="middle" font-size="10">A</text>
<line x1="74.45" y1="217.77" x2="74.45" y2="219.51" stroke="#111" stroke-width="0.8"/>
<line x1="71.65" y1="217.77" x2="77.25" y2="217.77" stroke="#111" stroke-width="0.8"/>
<line x1="71.65" y1="219.51" x2="77.25" y2="219.51" stroke="#111" stroke-width="0.8"/>
<text x="74.45" y="216.27" text-anchor="middle" font-size="10">A</text>
<line x1="102.45" y1="222.82" x2="102.45" y2="224.21" stroke="#111" stroke-width="0.8"/>
<line x1="99.65" y1="222.82" x2="105.25" y2="222.82" stroke="#111" stroke-width="0.8"/>
<line x1="99.65" y1="224.21" x2="105.25" y2="224.21" stroke="#111" stroke-width="0.8"/>
<text x="102.45" y="221.32" text-anchor="middle" font-size="10">B</text>
<line x1="130.45" y1="223.69" x2="130.45" y2="225.43" stroke="#111" stroke-width="0.8"/>
<line x1="127.65" y1="223.69" x2="133.25" y2="223.69" stroke="#111" stroke-width="0.8"/>
<line x1="127.65" y1="225.43" x2="133.25" y2="225.43" stroke="#111" stroke-width="0.8"/>
<text x="130.45" y="222.19" text-anchor="middle" font-size="10">B</text>
<line x1="158.45" y1="240.92" x2="158.45" y2="242.66" stroke="#111" stroke-width="0.8"/>
<line x1="155.65" y1="240.92" x2="161.25" y2="240.92" stroke="#111" stroke-width="0.8"/>
<line x1="155.65" y1="242.66" x2="161.25" y2="242.66" stroke="#111" stroke-width="0.8"/>
<text x="158.45" y="239.42" text-anchor="middle" font-size="10">C</text>
<line x1="186.45" y1="240.92" x2="186.45" y2="242.31" stroke="#111" stroke-width="0.8"/>
<line x1="183.65" y1="240.92" x2="189.25" y2="240.92" stroke="#111" stroke-width="0.8"/>
<line x1="183.65" y1="242.31" x2="189.25" y2="242.31" stroke="#111" stroke-width="0.8"/>
<text x="186.45" y="239.42" text-anchor="middle" font-size="10">C</text>
<line x1="28.5" y1="203" x2="28.5" y2="365.5" stroke="#262626" stroke-width="0.9"/>
<line x1="28.5" y1="365.5" x2="204.8" y2="365.5" stroke="#262626" stroke-width="0.9"/>
<line x1="26.2" y1="365.5" x2="28.5" y2="365.5" stroke="#262626" stroke-width="0.8"/>
<text x="24.6" y="368.8" text-anchor="end" font-size="9.6">0</text>
<line x1="26.2" y1="348.1" x2="28.5" y2="348.1" stroke="#262626" stroke-width="0.8"/>
<text x="24.6" y="351.4" text-anchor="end" font-size="9.6">0.5</text>
<line x1="26.2" y1="330.7" x2="28.5" y2="330.7" stroke="#262626" stroke-width="0.8"/>
<text x="24.6" y="334" text-anchor="end" font-size="9.6">1</text>
<line x1="26.2" y1="313.3" x2="28.5" y2="313.3" stroke="#262626" stroke-width="0.8"/>
<text x="24.6" y="316.6" text-anchor="end" font-size="9.6">1.5</text>
<line x1="26.2" y1="295.9" x2="28.5" y2="295.9" stroke="#262626" stroke-width="0.8"/>
<text x="24.6" y="299.2" text-anchor="end" font-size="9.6">2</text>
<line x1="26.2" y1="278.5" x2="28.5" y2="278.5" stroke="#262626" stroke-width="0.8"/>
<text x="24.6" y="281.8" text-anchor="end" font-size="9.6">2.5</text>
<line x1="26.2" y1="261.1" x2="28.5" y2="261.1" stroke="#262626" stroke-width="0.8"/>
<text x="24.6" y="264.4" text-anchor="end" font-size="9.6">3</text>
<line x1="26.2" y1="243.7" x2="28.5" y2="243.7" stroke="#262626" stroke-width="0.8"/>
<text x="24.6" y="247" text-anchor="end" font-size="9.6">3.5</text>
<line x1="26.2" y1="226.3" x2="28.5" y2="226.3" stroke="#262626" stroke-width="0.8"/>
<text x="24.6" y="229.6" text-anchor="end" font-size="9.6">4</text>
<line x1="26.2" y1="208.9" x2="28.5" y2="208.9" stroke="#262626" stroke-width="0.8"/>
<text x="24.6" y="212.2" text-anchor="end" font-size="9.6">4.5</text>
<line x1="46.45" y1="365.5" x2="46.45" y2="367.8" stroke="#262626" stroke-width="0.8"/>
<text x="46.45" y="377.4" text-anchor="middle" font-size="9.8">CK</text>
<line x1="74.45" y1="365.5" x2="74.45" y2="367.8" stroke="#262626" stroke-width="0.8"/>
<text x="74.45" y="377.4" text-anchor="middle" font-size="9.8">P</text>
<line x1="102.45" y1="365.5" x2="102.45" y2="367.8" stroke="#262626" stroke-width="0.8"/>
<text x="102.45" y="377.4" text-anchor="middle" font-size="9.8">LN</text>
<line x1="130.45" y1="365.5" x2="130.45" y2="367.8" stroke="#262626" stroke-width="0.8"/>
<text x="130.45" y="377.4" text-anchor="middle" font-size="9.8">LN+P</text>
<line x1="158.45" y1="365.5" x2="158.45" y2="367.8" stroke="#262626" stroke-width="0.8"/>
<text x="158.45" y="377.4" text-anchor="middle" font-size="9.8">HN</text>
<line x1="186.45" y1="365.5" x2="186.45" y2="367.8" stroke="#262626" stroke-width="0.8"/>
<text x="186.45" y="377.4" text-anchor="middle" font-size="9.8">HN+P</text>
<text x="116.65" y="394" text-anchor="middle" font-size="9.9">Treatment</text>
<text transform="translate(9.6,288) rotate(-90)" text-anchor="middle" font-size="10.3"><tspan font-style="italic">R</tspan><tspan font-style="italic" font-size="7.2" dy="2.1">s</tspan><tspan dy="-2.1"> (μmol CO</tspan><tspan font-size="7.2" dy="2.1">2</tspan><tspan dy="-2.1">·m</tspan><tspan font-size="7.2" dy="-3.5" dx="-0.3">-2</tspan><tspan dy="3.5" dx="-0.3">s</tspan><tspan font-size="7.2" dy="-3.5" dx="-0.3">-1</tspan><tspan dy="3.5">)</tspan></text>
<rect x="260.8" y="219.04" width="20.1" height="146.36" fill="#b8d1e6" stroke="#3a3a3a" stroke-width="0.8"/>
<rect x="288.8" y="219.26" width="20.1" height="146.14" fill="#fdd5b1" stroke="#3a3a3a" stroke-width="0.8"/>
<rect x="316.8" y="221.4" width="20.1" height="144" fill="#c2e1bd" stroke="#3a3a3a" stroke-width="0.8"/>
<rect x="344.8" y="221.4" width="20.1" height="144" fill="#e6e6f2" stroke="#3a3a3a" stroke-width="0.8"/>
<rect x="372.8" y="234.56" width="20.1" height="130.84" fill="#fcd7d3" stroke="#3a3a3a" stroke-width="0.8"/>
<rect x="400.8" y="235.11" width="20.1" height="130.29" fill="#d2d2ae" stroke="#3a3a3a" stroke-width="0.8"/>
<line x1="270.85" y1="217.11" x2="270.85" y2="220.97" stroke="#111" stroke-width="0.8"/>
<line x1="268.05" y1="217.11" x2="273.65" y2="217.11" stroke="#111" stroke-width="0.8"/>
<line x1="268.05" y1="220.97" x2="273.65" y2="220.97" stroke="#111" stroke-width="0.8"/>
<text x="270.85" y="215.61" text-anchor="middle" font-size="10">A</text>
<line x1="298.85" y1="217.33" x2="298.85" y2="221.19" stroke="#111" stroke-width="0.8"/>
<line x1="296.05" y1="217.33" x2="301.65" y2="217.33" stroke="#111" stroke-width="0.8"/>
<line x1="296.05" y1="221.19" x2="301.65" y2="221.19" stroke="#111" stroke-width="0.8"/>
<text x="298.85" y="215.83" text-anchor="middle" font-size="10">AB</text>
<line x1="326.85" y1="220.54" x2="326.85" y2="222.26" stroke="#111" stroke-width="0.8"/>
<line x1="324.05" y1="220.54" x2="329.65" y2="220.54" stroke="#111" stroke-width="0.8"/>
<line x1="324.05" y1="222.26" x2="329.65" y2="222.26" stroke="#111" stroke-width="0.8"/>
<text x="326.85" y="219.04" text-anchor="middle" font-size="10">AB</text>
<line x1="354.85" y1="220.76" x2="354.85" y2="222.04" stroke="#111" stroke-width="0.8"/>
<line x1="352.05" y1="220.76" x2="357.65" y2="220.76" stroke="#111" stroke-width="0.8"/>
<line x1="352.05" y1="222.04" x2="357.65" y2="222.04" stroke="#111" stroke-width="0.8"/>
<text x="354.85" y="219.26" text-anchor="middle" font-size="10">B</text>
<line x1="382.85" y1="233.7" x2="382.85" y2="235.41" stroke="#111" stroke-width="0.8"/>
<line x1="380.05" y1="233.7" x2="385.65" y2="233.7" stroke="#111" stroke-width="0.8"/>
<line x1="380.05" y1="235.41" x2="385.65" y2="235.41" stroke="#111" stroke-width="0.8"/>
<text x="382.85" y="232.2" text-anchor="middle" font-size="10">C</text>
<line x1="410.85" y1="233.61" x2="410.85" y2="236.61" stroke="#111" stroke-width="0.8"/>
<line x1="408.05" y1="233.61" x2="413.65" y2="233.61" stroke="#111" stroke-width="0.8"/>
<line x1="408.05" y1="236.61" x2="413.65" y2="236.61" stroke="#111" stroke-width="0.8"/>
<text x="410.85" y="232.11" text-anchor="middle" font-size="10">C</text>
<line x1="252.5" y1="203" x2="252.5" y2="365.4" stroke="#262626" stroke-width="0.9"/>
<line x1="252.5" y1="365.4" x2="428.7" y2="365.4" stroke="#262626" stroke-width="0.9"/>
<line x1="250.2" y1="365.4" x2="252.5" y2="365.4" stroke="#262626" stroke-width="0.8"/>
<text x="248.8" y="368.7" text-anchor="end" font-size="9.6">0</text>
<line x1="250.2" y1="343.97" x2="252.5" y2="343.97" stroke="#262626" stroke-width="0.8"/>
<text x="248.8" y="347.27" text-anchor="end" font-size="9.6">0.5</text>
<line x1="250.2" y1="322.54" x2="252.5" y2="322.54" stroke="#262626" stroke-width="0.8"/>
<text x="248.8" y="325.84" text-anchor="end" font-size="9.6">1</text>
<line x1="250.2" y1="301.11" x2="252.5" y2="301.11" stroke="#262626" stroke-width="0.8"/>
<text x="248.8" y="304.41" text-anchor="end" font-size="9.6">1.5</text>
<line x1="250.2" y1="279.69" x2="252.5" y2="279.69" stroke="#262626" stroke-width="0.8"/>
<text x="248.8" y="282.99" text-anchor="end" font-size="9.6">2</text>
<line x1="250.2" y1="258.26" x2="252.5" y2="258.26" stroke="#262626" stroke-width="0.8"/>
<text x="248.8" y="261.56" text-anchor="end" font-size="9.6">2.5</text>
<line x1="250.2" y1="236.83" x2="252.5" y2="236.83" stroke="#262626" stroke-width="0.8"/>
<text x="248.8" y="240.13" text-anchor="end" font-size="9.6">3</text>
<line x1="250.2" y1="215.4" x2="252.5" y2="215.4" stroke="#262626" stroke-width="0.8"/>
<text x="248.8" y="218.7" text-anchor="end" font-size="9.6">3.5</text>
<line x1="270.85" y1="365.4" x2="270.85" y2="367.7" stroke="#262626" stroke-width="0.8"/>
<text x="270.85" y="377.4" text-anchor="middle" font-size="9.8">CK</text>
<line x1="298.85" y1="365.4" x2="298.85" y2="367.7" stroke="#262626" stroke-width="0.8"/>
<text x="298.85" y="377.4" text-anchor="middle" font-size="9.8">P</text>
<line x1="326.85" y1="365.4" x2="326.85" y2="367.7" stroke="#262626" stroke-width="0.8"/>
<text x="326.85" y="377.4" text-anchor="middle" font-size="9.8">LN</text>
<line x1="354.85" y1="365.4" x2="354.85" y2="367.7" stroke="#262626" stroke-width="0.8"/>
<text x="354.85" y="377.4" text-anchor="middle" font-size="9.8">LN+P</text>
<line x1="382.85" y1="365.4" x2="382.85" y2="367.7" stroke="#262626" stroke-width="0.8"/>
<text x="382.85" y="377.4" text-anchor="middle" font-size="9.8">HN</text>
<line x1="410.85" y1="365.4" x2="410.85" y2="367.7" stroke="#262626" stroke-width="0.8"/>
<text x="410.85" y="377.4" text-anchor="middle" font-size="9.8">HN+P</text>
<text x="340.6" y="394" text-anchor="middle" font-size="9.9">Treatment</text>
<text transform="translate(233.6,288) rotate(-90)" text-anchor="middle" font-size="10.3"><tspan font-style="italic">R</tspan><tspan font-style="italic" font-size="7.2" dy="2.1">h</tspan><tspan dy="-2.1"> (μmol CO</tspan><tspan font-size="7.2" dy="2.1">2</tspan><tspan dy="-2.1">·m</tspan><tspan font-size="7.2" dy="-3.5" dx="-0.3">-2</tspan><tspan dy="3.5" dx="-0.3">s</tspan><tspan font-size="7.2" dy="-3.5" dx="-0.3">-1</tspan><tspan dy="3.5">)</tspan></text>
<rect x="494.4" y="225.37" width="20.1" height="140.13" fill="#b8d1e6" stroke="#3a3a3a" stroke-width="0.8"/>
<rect x="522.4" y="222.78" width="20.1" height="142.72" fill="#fdd5b1" stroke="#3a3a3a" stroke-width="0.8"/>
<rect x="550.4" y="238.35" width="20.1" height="127.15" fill="#c2e1bd" stroke="#3a3a3a" stroke-width="0.8"/>
<rect x="578.4" y="242.67" width="20.1" height="122.83" fill="#e6e6f2" stroke="#3a3a3a" stroke-width="0.8"/>
<rect x="606.4" y="276.75" width="20.1" height="88.75" fill="#fcd7d3" stroke="#3a3a3a" stroke-width="0.8"/>
<rect x="634.4" y="273.81" width="20.1" height="91.69" fill="#d2d2ae" stroke="#3a3a3a" stroke-width="0.8"/>
<line x1="504.45" y1="223.29" x2="504.45" y2="227.45" stroke="#111" stroke-width="0.8"/>
<line x1="501.65" y1="223.29" x2="507.25" y2="223.29" stroke="#111" stroke-width="0.8"/>
<line x1="501.65" y1="227.45" x2="507.25" y2="227.45" stroke="#111" stroke-width="0.8"/>
<text x="504.45" y="221.79" text-anchor="middle" font-size="10">A</text>
<line x1="532.45" y1="214.99" x2="532.45" y2="230.56" stroke="#111" stroke-width="0.8"/>
<line x1="529.65" y1="214.99" x2="535.25" y2="214.99" stroke="#111" stroke-width="0.8"/>
<line x1="529.65" y1="230.56" x2="535.25" y2="230.56" stroke="#111" stroke-width="0.8"/>
<text x="532.45" y="213.49" text-anchor="middle" font-size="10">A</text>
<line x1="560.45" y1="232.12" x2="560.45" y2="244.57" stroke="#111" stroke-width="0.8"/>
<line x1="557.65" y1="232.12" x2="563.25" y2="232.12" stroke="#111" stroke-width="0.8"/>
<line x1="557.65" y1="244.57" x2="563.25" y2="244.57" stroke="#111" stroke-width="0.8"/>
<text x="560.45" y="230.62" text-anchor="middle" font-size="10">B</text>
<line x1="588.45" y1="235.75" x2="588.45" y2="249.59" stroke="#111" stroke-width="0.8"/>
<line x1="585.65" y1="235.75" x2="591.25" y2="235.75" stroke="#111" stroke-width="0.8"/>
<line x1="585.65" y1="249.59" x2="591.25" y2="249.59" stroke="#111" stroke-width="0.8"/>
<text x="588.45" y="234.25" text-anchor="middle" font-size="10">B</text>
<line x1="616.45" y1="273.64" x2="616.45" y2="279.87" stroke="#111" stroke-width="0.8"/>
<line x1="613.65" y1="273.64" x2="619.25" y2="273.64" stroke="#111" stroke-width="0.8"/>
<line x1="613.65" y1="279.87" x2="619.25" y2="279.87" stroke="#111" stroke-width="0.8"/>
<text x="616.45" y="272.14" text-anchor="middle" font-size="10">C</text>
<line x1="644.45" y1="271.22" x2="644.45" y2="276.41" stroke="#111" stroke-width="0.8"/>
<line x1="641.65" y1="271.22" x2="647.25" y2="271.22" stroke="#111" stroke-width="0.8"/>
<line x1="641.65" y1="276.41" x2="647.25" y2="276.41" stroke="#111" stroke-width="0.8"/>
<text x="644.45" y="269.72" text-anchor="middle" font-size="10">C</text>
<line x1="486.5" y1="203" x2="486.5" y2="365.5" stroke="#262626" stroke-width="0.9"/>
<line x1="486.5" y1="365.5" x2="662.7" y2="365.5" stroke="#262626" stroke-width="0.9"/>
<line x1="484.2" y1="365.5" x2="486.5" y2="365.5" stroke="#262626" stroke-width="0.8"/>
<text x="482.6" y="368.8" text-anchor="end" font-size="9.6">0</text>
<line x1="484.2" y1="348.2" x2="486.5" y2="348.2" stroke="#262626" stroke-width="0.8"/>
<text x="482.6" y="351.5" text-anchor="end" font-size="9.6">0.1</text>
<line x1="484.2" y1="330.9" x2="486.5" y2="330.9" stroke="#262626" stroke-width="0.8"/>
<text x="482.6" y="334.2" text-anchor="end" font-size="9.6">0.2</text>
<line x1="484.2" y1="313.6" x2="486.5" y2="313.6" stroke="#262626" stroke-width="0.8"/>
<text x="482.6" y="316.9" text-anchor="end" font-size="9.6">0.3</text>
<line x1="484.2" y1="296.3" x2="486.5" y2="296.3" stroke="#262626" stroke-width="0.8"/>
<text x="482.6" y="299.6" text-anchor="end" font-size="9.6">0.4</text>
<line x1="484.2" y1="279" x2="486.5" y2="279" stroke="#262626" stroke-width="0.8"/>
<text x="482.6" y="282.3" text-anchor="end" font-size="9.6">0.5</text>
<line x1="484.2" y1="261.7" x2="486.5" y2="261.7" stroke="#262626" stroke-width="0.8"/>
<text x="482.6" y="265" text-anchor="end" font-size="9.6">0.6</text>
<line x1="484.2" y1="244.4" x2="486.5" y2="244.4" stroke="#262626" stroke-width="0.8"/>
<text x="482.6" y="247.7" text-anchor="end" font-size="9.6">0.7</text>
<line x1="484.2" y1="227.1" x2="486.5" y2="227.1" stroke="#262626" stroke-width="0.8"/>
<text x="482.6" y="230.4" text-anchor="end" font-size="9.6">0.8</text>
<line x1="484.2" y1="209.8" x2="486.5" y2="209.8" stroke="#262626" stroke-width="0.8"/>
<text x="482.6" y="213.1" text-anchor="end" font-size="9.6">0.9</text>
<line x1="504.45" y1="365.5" x2="504.45" y2="367.8" stroke="#262626" stroke-width="0.8"/>
<text x="504.45" y="377.4" text-anchor="middle" font-size="9.8">CK</text>
<line x1="532.45" y1="365.5" x2="532.45" y2="367.8" stroke="#262626" stroke-width="0.8"/>
<text x="532.45" y="377.4" text-anchor="middle" font-size="9.8">P</text>
<line x1="560.45" y1="365.5" x2="560.45" y2="367.8" stroke="#262626" stroke-width="0.8"/>
<text x="560.45" y="377.4" text-anchor="middle" font-size="9.8">LN</text>
<line x1="588.45" y1="365.5" x2="588.45" y2="367.8" stroke="#262626" stroke-width="0.8"/>
<text x="588.45" y="377.4" text-anchor="middle" font-size="9.8">LN+P</text>
<line x1="616.45" y1="365.5" x2="616.45" y2="367.8" stroke="#262626" stroke-width="0.8"/>
<text x="616.45" y="377.4" text-anchor="middle" font-size="9.8">HN</text>
<line x1="644.45" y1="365.5" x2="644.45" y2="367.8" stroke="#262626" stroke-width="0.8"/>
<text x="644.45" y="377.4" text-anchor="middle" font-size="9.8">HN+P</text>
<text x="574.6" y="394" text-anchor="middle" font-size="9.9">Treatment</text>
<text transform="translate(468.2,288) rotate(-90)" text-anchor="middle" font-size="10.3"><tspan font-style="italic">R</tspan><tspan font-style="italic" font-size="7.2" dy="2.1">a</tspan><tspan dy="-2.1"> (μmol CO</tspan><tspan font-size="7.2" dy="2.1">2</tspan><tspan dy="-2.1">·m</tspan><tspan font-size="7.2" dy="-3.5" dx="-0.3">-2</tspan><tspan dy="3.5" dx="-0.3">s</tspan><tspan font-size="7.2" dy="-3.5" dx="-0.3">-1</tspan><tspan dy="3.5">)</tspan></text>
</svg>
</body></html>
